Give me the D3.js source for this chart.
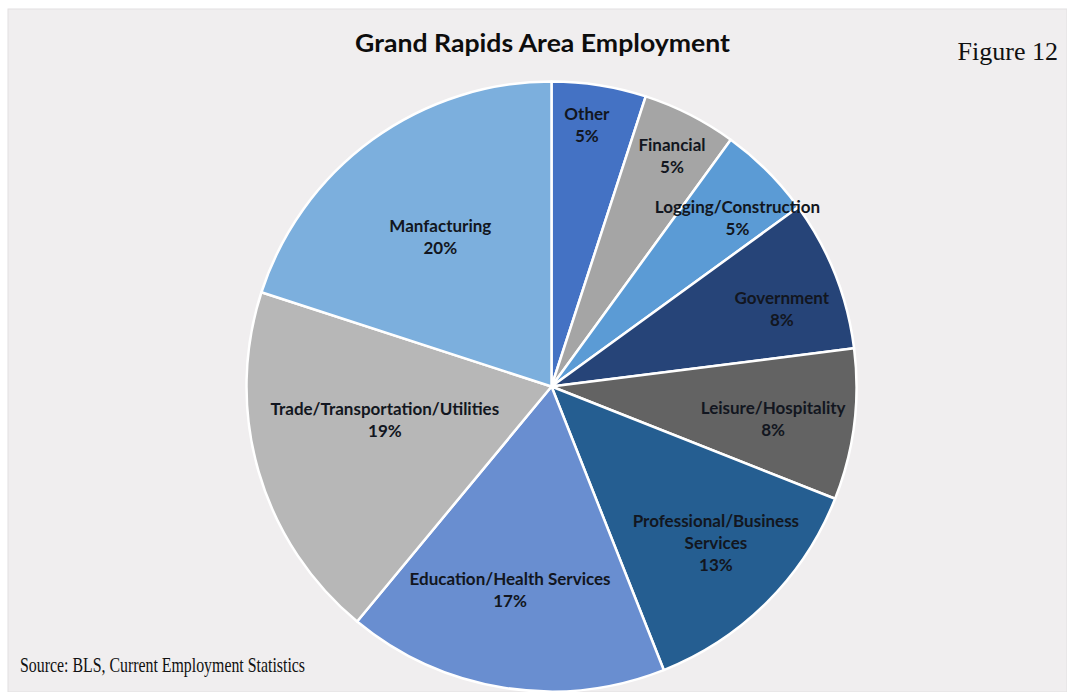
<!DOCTYPE html>
<html>
<head>
<meta charset="utf-8">
<script src="https://cdn.jsdelivr.net/npm/d3@7"></script>
<style>
  html, body { margin: 0; padding: 0; background: #ffffff; }
  svg { display: block; }
</style>
</head>
<body>
<svg id="chart" width="1067" height="692"></svg>
<script>
// Employment shares by sector, clockwise from 12 o'clock
const sectors = ["Other", "Financial", "Logging/Construction", "Government",
  "Leisure/Hospitality", "Professional/Business Services",
  "Education/Health Services", "Trade/Transportation/Utilities", "Manfacturing"];
const shares = [5, 5, 5, 8, 8, 13, 17, 19, 20];
const sliceColors = ["#4472c4", "#a5a5a5", "#5b9bd5", "#264478", "#636363",
  "#255e91", "#698ed0", "#b7b7b7", "#7cafdd"];
// Label lines per slice (the business-services label wraps)
const labelLines = [["Other"], ["Financial"], ["Logging/Construction"], ["Government"],
  ["Leisure/Hospitality"], ["Professional/Business", "Services"],
  ["Education/Health Services"], ["Trade/Transportation/Utilities"], ["Manfacturing"]];

// Label placement: polar angle (degrees clockwise from top) and distance from centre
const labelAngle = [7.7, 27.6, 47.8, 71.4, 98.3, 133.6, 191.5, 258.6, 323.3];
const labelDist = [264, 260, 251, 243, 224, 227, 208, 170, 186];

const W = 1067, H = 692;
const cx = 551.5, cy = 386.5, R = 305;

const svg = d3.select("#chart");

// chart panel
svg.append("rect").attr("x", 8).attr("y", 9).attr("width", W - 8).attr("height", H - 9)
  .attr("fill", "#f0eeef").attr("stroke", "#e2e0e1").attr("stroke-width", 1);

const data = sectors.map((s, i) => ({ name: s, value: shares[i], color: sliceColors[i],
  lines: labelLines[i], la: labelAngle[i], ld: labelDist[i] }));

const pie = d3.pie().value(d => d.value).sort(null);
const arc = d3.arc().innerRadius(0).outerRadius(R);

const g = svg.append("g").attr("transform", `translate(${cx},${cy})`);

g.selectAll("path.slice").data(pie(data)).join("path")
  .attr("class", "slice")
  .attr("d", arc)
  .attr("fill", d => d.data.color)
  .attr("stroke", "#ffffff")
  .attr("stroke-width", 2.5)
  .attr("stroke-linejoin", "round");

// slice labels: name line(s) then percentage
const lineH = 22;
const labels = g.selectAll("g.label").data(pie(data)).join("g")
  .attr("class", "label")
  .attr("transform", d => {
    const a = d.data.la * Math.PI / 180;
    return `translate(${Math.sin(a) * d.data.ld},${-Math.cos(a) * d.data.ld})`;
  });

labels.each(function(d) {
  const lines = d.data.lines.concat([d.data.value + "%"]);
  const n = lines.length;
  const t = d3.select(this).append("text")
    .attr("text-anchor", "middle")
    .attr("font-family", "Lato, 'Open Sans', sans-serif")
    .attr("font-weight", "bold")
    .attr("font-size", 17)
    .attr("fill", "#121620");
  lines.forEach((l, i) => {
    t.append("tspan").attr("x", 0)
      .attr("y", (i - (n - 1) / 2) * lineH + 6)
      .text(l);
  });
});

// title
svg.append("text")
  .attr("x", 542.5).attr("y", 52)
  .attr("text-anchor", "middle")
  .attr("font-family", "Lato, 'Open Sans', sans-serif")
  .attr("font-weight", "bold")
  .attr("font-size", 25)
  .attr("fill", "#0d0d0d")
  .attr("textLength", 375)
  .attr("lengthAdjust", "spacingAndGlyphs")
  .text("Grand Rapids Area Employment");

// figure number
svg.append("text")
  .attr("x", 1058).attr("y", 60)
  .attr("text-anchor", "end")
  .attr("font-family", "'Liberation Serif', 'Times New Roman', serif")
  .attr("font-size", 26)
  .attr("fill", "#111")
  .text("Figure 12");

// source note
svg.append("text")
  .attr("x", 20).attr("y", 672)
  .attr("font-family", "'Liberation Serif', 'Times New Roman', serif")
  .attr("font-size", 21)
  .attr("fill", "#111")
  .attr("textLength", 285)
  .attr("lengthAdjust", "spacingAndGlyphs")
  .text("Source: BLS, Current Employment Statistics");
</script>
</body>
</html>
